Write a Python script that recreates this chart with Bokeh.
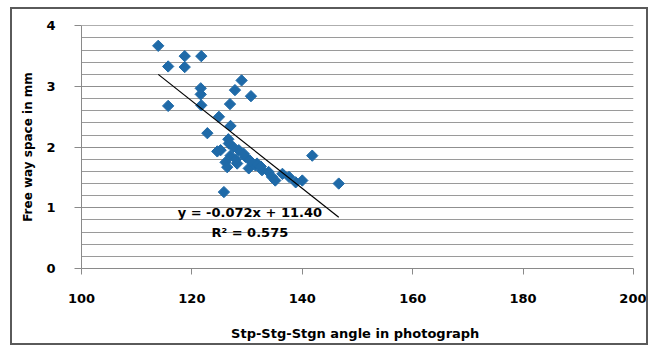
from bokeh.plotting import figure
from bokeh.models import Range1d, SingleIntervalTicker, Label
from bokeh.embed import file_html
from bokeh.resources import INLINE

# data
angle = [113.9, 115.7, 118.7, 118.7, 121.7, 121.6, 121.6, 129.0, 127.8, 130.7,
         115.7, 126.9, 121.7, 124.9, 127.0, 122.8, 126.6, 125.2, 124.6, 126.7,
         127.0, 126.1, 126.4, 128.5, 128.2, 129.7, 129.4, 130.3, 131.5, 131.8,
         132.7, 133.9, 134.5, 135.1, 136.4, 137.6, 138.8, 140.0, 125.8, 141.8,
         146.6, 127.5, 128.0, 130.5, 132.5]
freeway = [3.67, 3.33, 3.50, 3.32, 3.50, 2.97, 2.87, 3.10, 2.94, 2.84,
           2.68, 2.71, 2.69, 2.50, 2.35, 2.23, 2.13, 1.95, 1.93, 2.06,
           1.86, 1.75, 1.67, 1.95, 1.73, 1.84, 1.89, 1.65, 1.70, 1.73,
           1.62, 1.59, 1.51, 1.45, 1.56, 1.51, 1.42, 1.45, 1.26, 1.86,
           1.40, 2.00, 1.80, 1.78, 1.68]
slope = -0.072
intercept = 11.40
r2 = 0.575
x_ticks = [100, 120, 140, 160, 180, 200]

p = figure(width=638, height=338, output_backend="svg", toolbar_location=None,
           x_range=Range1d(100, 200), y_range=Range1d(0, 4.005),
           min_border_left=69, min_border_right=17, min_border_top=16, min_border_bottom=79)
p.margin = (7, 0, 0, 10)
p.styles = {"border": "2px solid #5a5a5a"}
p.outline_line_color = None
p.background_fill_color = "white"
p.border_fill_color = "white"

p.xaxis.ticker = x_ticks
p.xgrid.grid_line_color = None
yt = SingleIntervalTicker(interval=1, num_minor_ticks=5)
p.yaxis.ticker = yt
p.ygrid.ticker = yt
p.ygrid.grid_line_color = "#8f8f8f"
p.ygrid.minor_grid_line_color = "#9a9a9a"
p.ygrid.grid_line_width = 1

for ax in (p.xaxis[0], p.yaxis[0]):
    ax.axis_line_color = "#8a8a8a"
    ax.major_tick_line_color = "#8a8a8a"
    ax.minor_tick_line_color = None
    ax.major_tick_in = 0
    ax.major_label_text_font = "DejaVu Sans"
    ax.major_label_text_font_style = "bold"
    ax.major_label_text_font_size = "13px"
    ax.major_label_text_color = "black"
    ax.axis_label_text_font = "DejaVu Sans"
    ax.axis_label_text_font_style = "bold"
    ax.axis_label_text_color = "black"

p.xaxis.major_tick_out = 6
p.xaxis.major_label_standoff = 19
p.xaxis.axis_label = "Stp-Stg-Stgn  angle in photograph"
p.xaxis.axis_label_text_font_size = "13px"
p.xaxis.axis_label_standoff = 20
p.yaxis.major_tick_out = 7
p.yaxis.major_label_standoff = 19
p.yaxis.axis_label = "Free way space in mm"
p.yaxis.axis_label_text_font_size = "12px"
p.yaxis.axis_label_standoff = 8

p.scatter(angle, freeway, marker="square", angle=0.785398, size=8,
          fill_color="#1f6aa8", line_color="#1f6aa8")

xs = [min(angle), max(angle)]
ys = [slope * v + intercept for v in xs]
p.line(xs, ys, line_color="black", line_width=1.2)

eq = Label(x=130.5, y=0.93, text="y = %.3fx + %.2f" % (slope, intercept),
           text_align="center", text_baseline="middle", text_font="DejaVu Sans",
           text_font_style="bold", text_font_size="13px", text_color="black")
rr = Label(x=130.5, y=0.60, text="R² = %.3f" % r2,
           text_align="center", text_baseline="middle", text_font="DejaVu Sans",
           text_font_style="bold", text_font_size="13px", text_color="black")
p.add_layout(eq)
p.add_layout(rr)

open("out.html", "w").write(file_html(p, INLINE))
